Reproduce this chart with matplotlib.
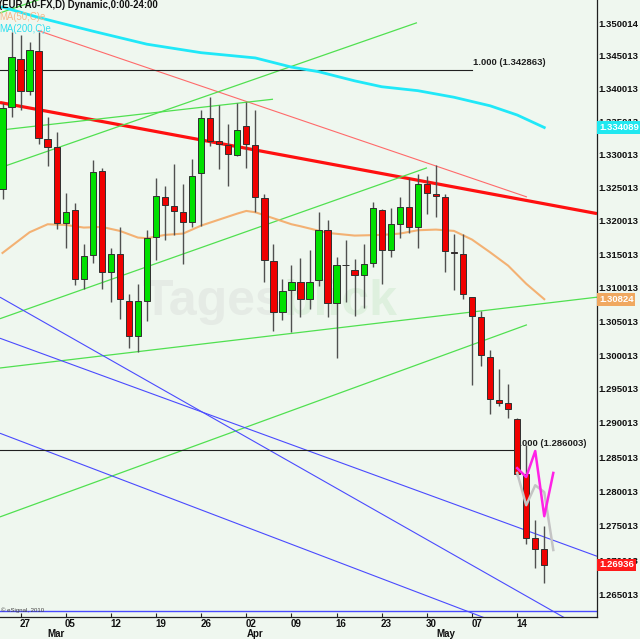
import matplotlib
matplotlib.use('Agg')
import matplotlib.pyplot as plt
import matplotlib.transforms as mtransforms
from matplotlib.ticker import FixedLocator, FixedFormatter, NullLocator

# ---------------- data (trading-day index 0 = 2012-02-23) ----------------
opens = [1.3248, 1.3372, 1.3445, 1.3397, 1.3457, 1.3324, 1.3311, 1.3197, 1.3217, 1.3113,
         1.3149, 1.3275, 1.3123, 1.3150, 1.3080, 1.3029, 1.3080, 1.3176, 1.3236, 1.3223,
         1.3213, 1.3198, 1.3272, 1.3355, 1.3320, 1.3314, 1.3299, 1.3343, 1.3314, 1.3235,
         1.3140, 1.3064, 1.3096, 1.3108, 1.3083, 1.3112, 1.3186, 1.3077, 1.3134, 1.3126,
         1.3119, 1.3137, 1.3217, 1.3157, 1.3195, 1.3221, 1.3191, 1.3255, 1.3240, 1.3236,
         1.3154, 1.3151, 1.3086, 1.3056, 1.2997, 1.2934, 1.2930, 1.2906, 1.2825, 1.2733, 1.2716]
highs = [1.3378, 1.3487, 1.3482, 1.3472, 1.3486, 1.3357, 1.3334, 1.3242, 1.3227, 1.3165,
         1.3292, 1.3279, 1.3159, 1.3191, 1.3090, 1.3105, 1.3187, 1.3265, 1.3253, 1.3286,
         1.3255, 1.3293, 1.3368, 1.3387, 1.3375, 1.3346, 1.3378, 1.3380, 1.3368, 1.3240,
         1.3165, 1.3113, 1.3134, 1.3144, 1.3157, 1.3213, 1.3201, 1.3146, 1.3172, 1.3143,
         1.3166, 1.3228, 1.3218, 1.3219, 1.3236, 1.3264, 1.3271, 1.3268, 1.3284, 1.3241,
         1.3180, 1.3180, 1.3087, 1.3065, 1.3007, 1.2980, 1.2957, 1.2907, 1.2868, 1.2759, 1.2750]
lows = [1.3233, 1.3357, 1.3367, 1.3390, 1.3316, 1.3283, 1.3188, 1.3160, 1.3104, 1.3098,
        1.3137, 1.3098, 1.3079, 1.3054, 1.3011, 1.3004, 1.3050, 1.3142, 1.3172, 1.3179,
        1.3135, 1.3191, 1.3193, 1.3313, 1.3278, 1.3253, 1.3298, 1.3279, 1.3214, 1.3108,
        1.3036, 1.3052, 1.3035, 1.3057, 1.3068, 1.3103, 1.3057, 1.2996, 1.3079, 1.3058,
        1.3070, 1.3131, 1.3106, 1.3146, 1.3175, 1.3182, 1.3159, 1.3210, 1.3206, 1.3123,
        1.3097, 1.3083, 1.2956, 1.2984, 1.2913, 1.2925, 1.2907, 1.2823, 1.2723, 1.2689, 1.2668]
closes = [1.3371, 1.3448, 1.3397, 1.3459, 1.3325, 1.3312, 1.3197, 1.3213, 1.3113, 1.3148,
          1.3274, 1.3123, 1.3150, 1.3083, 1.3029, 1.3081, 1.3174, 1.3237, 1.3224, 1.3215,
          1.3198, 1.3268, 1.3355, 1.3320, 1.3316, 1.3301, 1.3337, 1.3316, 1.3236, 1.3141,
          1.3064, 1.3095, 1.3109, 1.3083, 1.3109, 1.3186, 1.3077, 1.3134, 1.3134, 1.3119,
          1.3135, 1.3219, 1.3156, 1.3195, 1.3221, 1.3191, 1.3256, 1.3242, 1.3238, 1.3155,
          1.3152, 1.3090, 1.3058, 1.3000, 1.2935, 1.2930, 1.2920, 1.2826, 1.2733, 1.2717, 1.2694]

ma200_idx = [0, 4, 10, 16, 22, 28, 32, 35, 39, 42, 46, 50, 54, 57, 60]
ma200_val = [1.3525, 1.3509, 1.3488, 1.3468, 1.3455, 1.3447, 1.3433, 1.3426, 1.3412, 1.3403,
             1.3397, 1.3387, 1.3374, 1.3360, 1.3341]
ma50_idx = [0, 3, 5, 7, 9, 11, 13, 15, 16, 18, 20, 22, 24, 26, 27, 28, 30, 32, 33, 36, 39,
            42, 44, 46, 48, 50, 52, 54, 56, 58, 60]
ma50_val = [1.3152, 1.3183, 1.3195, 1.3194, 1.3190, 1.3191, 1.3185, 1.3175, 1.3174, 1.3179,
            1.3181, 1.3193, 1.3202, 1.3211, 1.3215, 1.3213, 1.3204, 1.3195, 1.3192, 1.3182,
            1.3178, 1.3179, 1.3181, 1.3186, 1.3187, 1.3185, 1.3172, 1.3153, 1.3133, 1.3106, 1.3083]

# trendlines: (x0, p0, x1, p1, colour, width)
trend_lines = [
    (-0.28, 1.3379, 65.84, 1.3211, '#ff1010', 2.3),   # thick red
    (3.93, 1.3489, 58.08, 1.3236, '#ff6a6a', 0.8),    # thin red
    (-0.28, 1.3280, 45.9, 1.3501, '#50e050', 0.9),    # green channel upper
    (-0.28, 1.3516, 5.0, 1.3541, '#50e050', 0.9),     # green top-left
    (-0.28, 1.3337, 29.96, 1.3384, '#50e050', 0.9),   # green shallow upper
    (-0.28, 1.3054, 47.01, 1.3280, '#50e050', 0.9),   # green channel mid
    (-0.28, 1.2981, 65.84, 1.3086, '#50e050', 0.9),   # green shallow lower
    (-0.28, 1.2763, 58.08, 1.3045, '#50e050', 0.9),   # green channel low
    (-0.28, 1.3086, 65.84, 1.2591, '#4a4aff', 0.8),   # blue
    (-0.28, 1.3025, 65.84, 1.2706, '#4a4aff', 0.8),   # blue
    (-0.28, 1.2885, 65.84, 1.2556, '#4a4aff', 0.8),   # blue
]
blue_level = 1.26275
fib_levels = [(1.342863, 51.96, '1.000 (1.342863)'), (1.286003, 56.57, '1.000 (1.286003)')]

proj_idx = [57, 58, 59, 60, 61]
proj_magenta = [1.2834, 1.2821, 1.2859, 1.2764, 1.2827]
proj_gray = [1.2827, 1.2780, 1.2809, 1.2799, 1.2715]

ytick_vals = [1.350014, 1.345013, 1.340013, 1.335013, 1.330013, 1.325013, 1.320013, 1.315013,
              1.310013, 1.305013, 1.300013, 1.295013, 1.290013, 1.285013, 1.280013, 1.275013,
              1.270013, 1.265013]
day_ticks = [2, 7, 12, 17, 22, 27, 32, 37, 42, 47, 52, 57]
day_labels = ['27', '05', '12', '19', '26', '02', '09', '16', '23', '30', '07', '14']
month_ticks = [5, 27, 48]
month_labels = ['Mar', 'Apr', 'May']

last_boxes = [(1.334089, '1.334089', '#20e8f0'), (1.30824, '1.30824', '#f0a860'),
              (1.26936, '1.26936', '#ff1a1a')]

# ---------------- figure ----------------
BG = '#eff7ef'
FONT = 'Liberation Sans'
fig = plt.figure(figsize=(6.4, 6.39), dpi=100, facecolor=BG)
ax = fig.add_axes([0, 22 / 639, 597 / 640, 617 / 639], facecolor=BG)
ax.set_yscale('log')
ax.set_xlim(-0.277, 65.84)
ax.set_ylim(1.26185, 1.35359)

# watermark
ax.text(0.475, 0.51, 'Tages', transform=ax.transAxes, fontsize=36, fontweight='bold',
        color='#e5ebe5', ha='right', va='center', family=FONT, zorder=0)
ax.text(0.475, 0.51, 'blick', transform=ax.transAxes, fontsize=36, fontweight='bold',
        color='#def0de', ha='left', va='center', family=FONT, zorder=0)

# trendlines
for x0, p0, x1, p1, col, lw in trend_lines:
    ax.plot([x0, x1], [p0, p1], color=col, lw=lw, zorder=2, solid_capstyle='butt')
ax.axhline(blue_level, color='#4a4aff', lw=1.0, zorder=2)
for lvl, xend, lab in fib_levels:
    ax.plot([-0.28, xend], [lvl, lvl], color='#202020', lw=0.8, zorder=2)
    ax.text(xend + 0.1, lvl * 1.0003, lab, fontsize=6.8, fontweight='bold', family=FONT,
            color='#202020', ha='left', va='bottom', zorder=2)

# moving averages
ax.plot(ma200_idx, ma200_val, color='#20e8f8', lw=2.0, zorder=3)
ax.plot(ma50_idx, ma50_val, color='#f4aa66', lw=1.5, zorder=3, alpha=0.9)

# candles
n = len(opens)
idx = list(range(n))
body_w = 0.70
ax.vlines(idx, lows, highs, color='#505050', lw=1.0, zorder=4)
for i in idx:
    o, c = opens[i], closes[i]
    col = '#00e000' if c > o else '#f00000'
    lo, hi = min(o, c), max(o, c)
    ax.bar(i, hi - lo, bottom=lo, width=body_w, color=col, edgecolor='#303030', lw=0.7,
           zorder=5)

# projection lines
ax.plot(proj_idx, proj_gray, color='#c4c4c4', lw=1.8, zorder=6)
ax.plot(proj_idx, proj_magenta, color='#ff22e6', lw=1.8, zorder=6)

# axes decoration
for s in ['left', 'top']:
    ax.spines[s].set_visible(False)
for s in ['right', 'bottom']:
    ax.spines[s].set_color('#202020')
    ax.spines[s].set_linewidth(0.9)

ax.yaxis.tick_right()
ax.yaxis.set_major_locator(FixedLocator(ytick_vals))
ax.yaxis.set_major_formatter(FixedFormatter([f'{v:.6f}' for v in ytick_vals]))
ax.yaxis.set_minor_locator(NullLocator())
ax.tick_params(axis='y', length=0, pad=1, labelsize=6.8, labelcolor='#101010')
for t in ax.get_yticklabels():
    t.set_fontweight('bold')
    t.set_family(FONT)

ax.set_xticks(day_ticks)
ax.set_xticklabels([])
ax.xaxis.set_minor_locator(NullLocator())
ax.tick_params(axis='x', direction='in', length=3, color='#202020', width=0.8)

tx = mtransforms.blended_transform_factory(ax.transData, ax.transAxes)
for d, lab in zip(day_ticks, day_labels):
    ax.text(d - 0.1, -0.0115, lab, transform=tx, ha='left', va='center', fontsize=7,
            fontweight='bold', family=FONT, color='#101010', clip_on=False)
for d, lab in zip(month_ticks, month_labels):
    ax.text(d, -0.0275, lab, transform=tx, ha='left', va='center', fontsize=7,
            fontweight='bold', family=FONT, color='#101010', clip_on=False)

ty = mtransforms.blended_transform_factory(ax.transAxes, ax.transData)
for val, lab, col in last_boxes:
    ax.text(1.0 + 2 / 597, val, lab, transform=ty, ha='left', va='center', fontsize=6.8,
            fontweight='bold', family=FONT, color='white', clip_on=False, zorder=10,
            bbox=dict(boxstyle='square,pad=0.18', fc=col, ec='none'))

# header texts
ax.text(-0.002, 0.992, '(EUR A0-FX,D) Dynamic,0:00-24:00', transform=ax.transAxes,
        ha='left', va='center', fontsize=6.9, fontweight='bold', family=FONT,
        color='#101010', zorder=8)
ax.text(-0.002, 0.972, 'MA(50,C)e', transform=ax.transAxes, ha='left', va='center',
        fontsize=6.9, family=FONT, color='#f6b88a', zorder=8)
ax.text(-0.002, 0.953, 'MA(200,C)e', transform=ax.transAxes, ha='left', va='center',
        fontsize=6.9, family=FONT, color='#30e0f0', zorder=8)
ax.text(0.002, 0.0105, '\u00a9 eSignal, 2010', transform=ax.transAxes, ha='left',
        va='center', fontsize=4.3, family=FONT, color='#404040', zorder=8)

fig.savefig('out.png', dpi=100, facecolor=BG)
